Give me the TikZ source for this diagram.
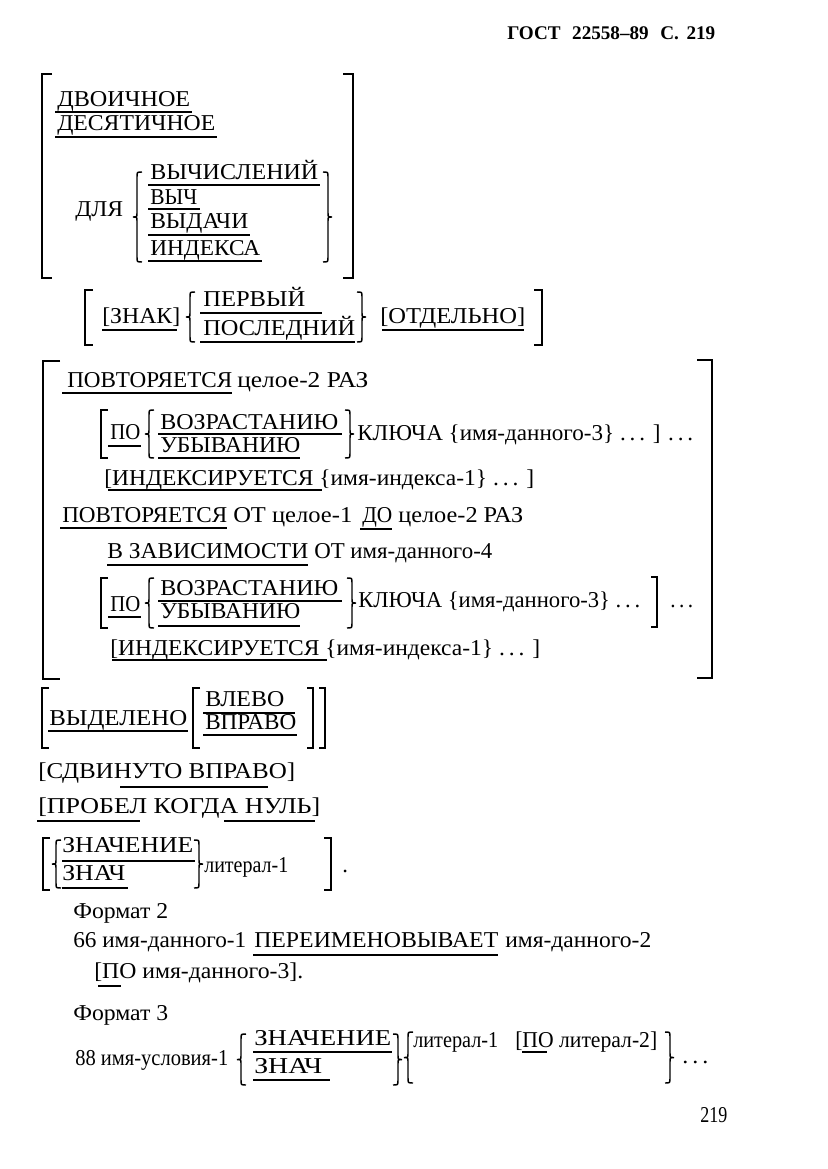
\documentclass[tikz,border=0pt]{standalone}
\usepackage{fontspec}
\setmainfont{Liberation Serif}
\usepackage{graphicx}
\tikzset{
  txt/.style={anchor=base west, inner sep=0pt, font=\fontsize{17}{20}\selectfont},
  hdr/.style={anchor=base west, inner sep=0pt, font=\fontsize{14.5}{17}\selectfont\bfseries},
  br/.style={line width=1.3pt, line cap=butt, line join=miter},
  ulin/.style={line width=0.9pt},
}
% text segment: name, x1, baseline y, x2, text
\newcommand\tseg[5]{%
  \pgfmathsetmacro\tsegw{(#4-#2)*0.75}%
  \node[txt] (#1) at (#2,#3) {\resizebox{\tsegw pt}{\height}{#5}};}
% underline: x1, x2, y
\newcommand\useg[3]{\draw[ulin] (#1,#3) -- (#2,#3);}
% left / right square bracket: x, y1, y2, tick
\newcommand\mkLB[4]{\draw[br] (#1+#4,#2) -- (#1,#2) -- (#1,#3) -- (#1+#4,#3);}
\newcommand\mkRB[4]{\draw[br] (#1-#4,#2) -- (#1,#2) -- (#1,#3) -- (#1-#4,#3);}
% left / right curly brace: x, y1, y2
\newcommand\mkLC[3]{%
  \pgfmathsetmacro\bym{(#2+#3)/2}%
  \draw[br,line width=1.1pt] (#1+5,#2) .. controls (#1,#2) .. (#1,#2+5) -- (#1,\bym-4)
    .. controls (#1,\bym) .. (#1-4,\bym) .. controls (#1,\bym) .. (#1,\bym+4)
    -- (#1,#3-5) .. controls (#1,#3) .. (#1+5,#3);}
\newcommand\mkRC[3]{%
  \pgfmathsetmacro\bym{(#2+#3)/2}%
  \draw[br,line width=1.1pt] (#1-5,#2) .. controls (#1,#2) .. (#1,#2+5) -- (#1,\bym-4)
    .. controls (#1,\bym) .. (#1+4,\bym) .. controls (#1,\bym) .. (#1,\bym+4)
    -- (#1,#3-5) .. controls (#1,#3) .. (#1-5,#3);}
\begin{document}
\begin{tikzpicture}[x=0.75pt,y=-0.75pt]
\fill[white] (0,0) rectangle (827,1169);
\useasboundingbox (0,0) rectangle (827,1169);

% header
\pgfmathsetmacro\tsegw{(715-507)*0.75}
\node[hdr] (hdr) at (507,40) {\resizebox{\tsegw pt}{\height}{ГОСТ\hspace{0.6em}22558--89\hspace{0.6em}С.\hspace{0.4em}219}};

% ---------- block 1
\mkLB{42}{74}{278}{10}
\mkRB{353}{74}{278}{10}
\tseg{b1a}{57}{107}{190}{ДВОИЧНОЕ}\useg{55}{192}{112}
\tseg{b1b}{57}{131}{215}{ДЕСЯТИЧНОЕ}\useg{55}{217}{137}
\tseg{b1c}{75}{217}{123}{ДЛЯ}
\mkLC{137}{172}{262}
\tseg{b1d}{150}{180}{318}{ВЫЧИСЛЕНИЙ}\useg{148}{320}{185}
\tseg{b1e}{150}{205}{197}{ВЫЧ}\useg{148}{200}{209}
\tseg{b1f}{150}{229}{248}{ВЫДАЧИ}\useg{148}{250}{235}
\tseg{b1g}{150}{256}{260}{ИНДЕКСА}\useg{148}{262}{261}
\mkRC{328}{172}{262}

% ---------- block 2
\mkLB{85}{290}{345}{8}
\mkRB{542}{290}{345}{8}
\tseg{b2a}{102}{323}{180}{[ЗНАК]}\useg{102}{177}{330}
\mkLC{190}{292}{342}
\tseg{b2b}{203}{306}{305}{ПЕРВЫЙ}\useg{200}{322}{313}
\tseg{b2c}{203}{335}{355}{ПОСЛЕДНИЙ}\useg{200}{355}{342}
\mkRC{362}{292}{342}
\tseg{b2d}{380}{323}{525}{[ОТДЕЛЬНО]}\useg{382}{524}{330}

% ---------- block 3
\mkLB{43}{361}{679}{17}
\mkRB{712}{360}{678}{15}
\tseg{b3a}{67}{387}{232}{ПОВТОРЯЕТСЯ}\useg{62}{232}{393}
\tseg{b3b}{237}{387}{368}{целое-2 РАЗ}
\mkLB{101}{410}{458}{7}
\tseg{b3c}{110}{439}{140}{ПО}\useg{108}{141}{446}
\mkLC{149}{410}{458}
\tseg{b3d}{160}{429}{338}{ВОЗРАСТАНИЮ}\useg{158}{342}{434}
\tseg{b3e}{160}{452}{300}{УБЫВАНИЮ}\useg{158}{300}{458}
\mkRC{350}{410}{458}
\tseg{b3f}{357}{440}{693}{КЛЮЧА \{имя-данного-3\} .\,.\,. ] .\,.\,.}
\tseg{b3g}{104}{485}{534}{[ИНДЕКСИРУЕТСЯ \{имя-индекса-1\} .\,.\,. ]}\useg{108}{322}{490}
\tseg{b3h}{62}{522}{227}{ПОВТОРЯЕТСЯ}\useg{60}{227}{528}
\tseg{b3i}{233}{522}{352}{ОТ целое-1}
\tseg{b3j}{362}{522}{392}{ДО}\useg{360}{392}{529}
\tseg{b3k}{398}{522}{523}{целое-2 РАЗ}
\tseg{b3l}{107}{558}{308}{В ЗАВИСИМОСТИ}\useg{107}{308}{565}
\tseg{b3m}{314}{558}{492}{ОТ имя-данного-4}
\mkLB{101}{578}{628}{7}
\tseg{b3n}{110}{611}{140}{ПО}\useg{108}{141}{617}
\mkLC{149}{578}{628}
\tseg{b3o}{160}{595}{338}{ВОЗРАСТАНИЮ}\useg{158}{342}{601}
\tseg{b3p}{160}{618}{300}{УБЫВАНИЮ}\useg{158}{300}{626}
\mkRC{352}{578}{628}
\tseg{b3q}{358}{607}{640}{КЛЮЧА \{имя-данного-3\} .\,.\,.}
\mkRB{657}{577}{627}{6}
\tseg{b3r}{670}{607}{693}{.\,.\,.}
\tseg{b3s}{110}{655}{540}{[ИНДЕКСИРУЕТСЯ \{имя-индекса-1\} .\,.\,. ]}\useg{112}{327}{660}

% ---------- block 4
\mkLB{42}{688}{748}{7}
\tseg{b4a}{49}{725}{187}{ВЫДЕЛЕНО}\useg{48}{188}{731}
\mkLB{193}{688}{748}{7}
\tseg{b4b}{205}{706}{284}{ВЛЕВО}\useg{203}{295}{713}
\tseg{b4c}{205}{729}{296}{ВПРАВО}\useg{203}{297}{735}
\mkRB{313}{688}{748}{6}
\mkRB{325}{688}{748}{6}
\tseg{b4d}{38}{778}{295}{[СДВИНУТО ВПРАВО]}\useg{120}{268}{787}
\tseg{b4e}{38}{813}{320}{[ПРОБЕЛ КОГДА НУЛЬ]}\useg{37}{140}{821}\useg{224}{315}{821}
\mkLB{43}{838}{890}{7}
\mkLC{56}{840}{888}
\tseg{b4f}{62}{852}{193}{ЗНАЧЕНИЕ}\useg{62}{195}{861}
\tseg{b4g}{62}{880}{125}{ЗНАЧ}\useg{62}{128}{888}
\mkRC{199}{840}{888}
\tseg{b4h}{204}{872}{288}{литерал-1}
\mkRB{331}{838}{890}{7}
\node[txt] (b4i) at (342,872) {.};

% ---------- block 5
\tseg{b5a}{73}{918}{168}{Формат 2}
\tseg{b5b}{73}{947}{246}{66 имя-данного-1}
\tseg{b5c}{254}{947}{498}{ПЕРЕИМЕНОВЫВАЕТ}\useg{253}{498}{955}
\tseg{b5d}{505}{947}{651}{имя-данного-2}
\tseg{b5e}{94}{978}{303}{[ПО имя-данного-3].}\useg{98}{121}{986}
\tseg{b5f}{73}{1020}{168}{Формат 3}
\tseg{b5g}{75}{1065}{228}{88 имя-условия-1}
\mkLC{241}{1034}{1085}
\tseg{b5h}{254}{1045}{391}{ЗНАЧЕНИЕ}\useg{253}{392}{1052}
\tseg{b5i}{254}{1073}{322}{ЗНАЧ}\useg{253}{330}{1080}
\mkRC{398}{1034}{1085}
\mkLC{408}{1032}{1083}
\tseg{b5j}{413}{1047}{498}{литерал-1}
\tseg{b5k}{515}{1047}{657}{[ПО литерал-2]}\useg{522}{547}{1052}
\mkRC{670}{1032}{1083}
\tseg{b5l}{682}{1063}{708}{.\,.\,.}
\tseg{b5m}{700}{1122}{727}{219}
\end{tikzpicture}
\end{document}
